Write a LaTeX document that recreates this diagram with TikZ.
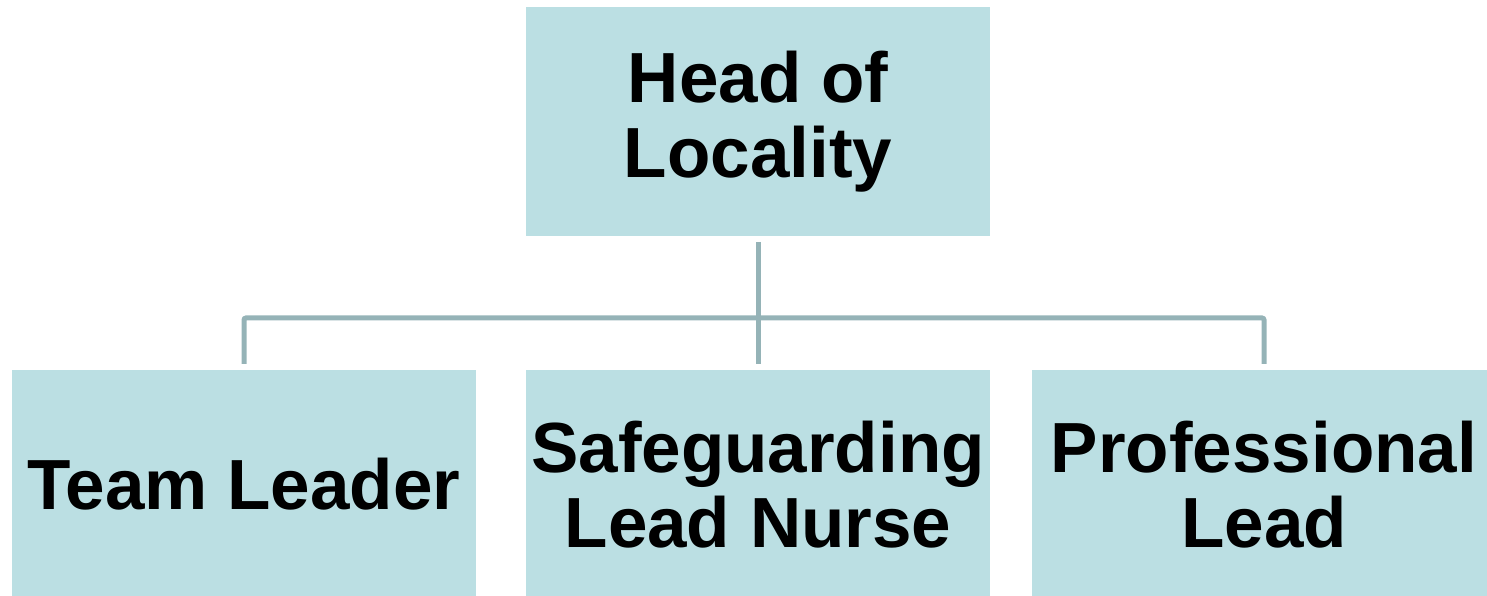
\documentclass[tikz,border=0pt]{standalone}
\usepackage{fontspec}
\setmainfont{Liberation Sans}
\definecolor{boxfill}{HTML}{BBDFE3}
\definecolor{linkline}{HTML}{95B3B7}
\tikzset{
  rolebox/.style={fill=boxfill, minimum width=464pt, minimum height=229pt,
    inner sep=0pt, outer sep=6pt, align=center,
    font=\fontsize{71}{75}\selectfont\bfseries},
  link/.style={draw=linkline, line width=5pt, rounded corners=2pt}
}

\begin{document}
\begin{tikzpicture}
\useasboundingbox (0pt,0pt) rectangle (1487pt,596pt);
\begin{scope}

\node[rolebox] (head) at (758pt, 474.5pt) {Head of\\Locality};
\node[rolebox] (team) at (244pt, 111.5pt) {Team Leader};
\node[rolebox] (nurse) at (758pt, 111.5pt) {Safeguarding\\Lead Nurse};
\node[rolebox] (prof) at (1264pt, 111.5pt) {Professional\\Lead};

\coordinate (bar) at (758pt, 278pt);
\draw[link] (head.south) -- (nurse.north);
\draw[link] (team.north) |- (bar) -| (prof.north);

\end{scope}
\end{tikzpicture}
\end{document}
